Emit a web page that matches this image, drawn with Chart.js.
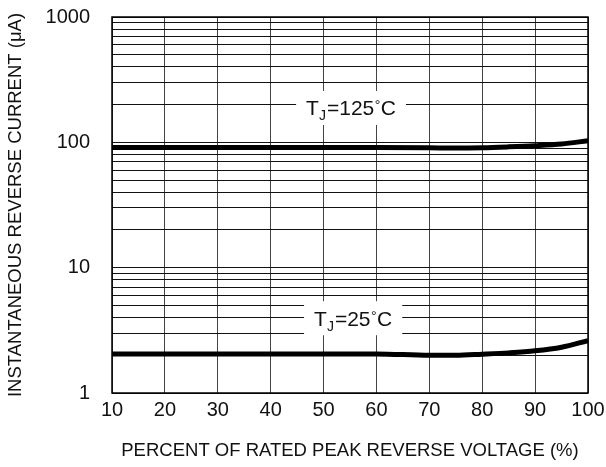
<!DOCTYPE html>
<html>
<head>
<meta charset="utf-8">
<script src="https://cdn.jsdelivr.net/npm/chart.js@4"></script>
<style>
  html, body { margin: 0; padding: 0; background: #fff; }
  #wrap { width: 606px; height: 467px; position: relative; }
</style>
</head>
<body>
<div id="wrap"><canvas id="c" width="606" height="467"></canvas></div>
<script>
// ---- data ----
const voltagePct = [10, 20, 30, 40, 50, 60, 70, 75, 80, 85, 90, 95, 100];
const current125 = [91, 91, 91, 91, 91, 91, 90.5, 90, 90.5, 92, 94, 97, 103];
const current25 = [2.05, 2.05, 2.05, 2.05, 2.05, 2.05, 2.0, 2.0, 2.04, 2.09, 2.17, 2.32, 2.62];
const seriesNames = ['TJ=125°C', 'TJ=25°C'];
const xTicks = [10, 20, 30, 40, 50, 60, 70, 80, 90, 100];
const yTicks = [1, 2, 3, 4, 5, 6, 7, 8, 9, 10, 20, 30, 40, 50, 60, 70, 80, 90,
                100, 200, 300, 400, 500, 600, 700, 800, 900, 1000];
const yLabels = [1, 10, 100, 1000];
const xTitle = 'PERCENT OF RATED PEAK REVERSE VOLTAGE (%)';
const yTitle = 'INSTANTANEOUS REVERSE CURRENT (μA)';
// curve label anchors (data coords)
const labelAnchors = [
  { x: 55.2, y: 188, main: 'T', sub: 'J', rest: '=125', deg: '°', unit: 'C' },
  { x: 55.6, y: 3.95, main: 'T', sub: 'J', rest: '=25', deg: '°', unit: 'C' }
];

const FONT = "'Liberation Sans', Arial, Helvetica, sans-serif";

const labelPlugin = {
  id: 'tjLabels',
  beforeDatasetsDraw(chart) {
    const ctx = chart.ctx;
    const xs = chart.scales.x, ys = chart.scales.y;
    labelAnchors.forEach(a => {
      const cx = xs.getPixelForValue(a.x);
      const cy = ys.getPixelForValue(a.y);
      ctx.save();
      const big = '21px ' + FONT, small = '14px ' + FONT;
      ctx.font = big;
      const wT = ctx.measureText(a.main).width;
      const wR = ctx.measureText(a.rest).width;
      const wC = ctx.measureText(a.unit).width;
      ctx.font = small;
      const wJ = ctx.measureText(a.sub).width + 1;
      const wD = ctx.measureText(a.deg).width + 1;
      const total = wT + wJ + wR + wD + wC;
      const baseline = cy + 7.5;
      ctx.fillStyle = '#fff';
      ctx.fillRect(cx - total / 2 - 10, cy - 17, total + 20, 34);
      ctx.fillStyle = '#111';
      ctx.textBaseline = 'alphabetic';
      ctx.textAlign = 'left';
      let x = cx - total / 2;
      ctx.font = big; ctx.fillText(a.main, x, baseline); x += wT;
      ctx.font = small; ctx.fillText(a.sub, x, baseline + 5); x += wJ;
      ctx.font = big; ctx.fillText(a.rest, x, baseline); x += wR;
      ctx.font = small; ctx.fillText(a.deg, x + 0.5, baseline - 5); x += wD;
      ctx.font = big; ctx.fillText(a.unit, x, baseline);
      ctx.restore();
    });
  },
  afterDatasetsDraw(chart) {
    const { ctx, chartArea: ca } = chart;
    ctx.save();
    ctx.strokeStyle = '#000';
    ctx.lineWidth = 1.5;
    ctx.strokeRect(ca.left, ca.top, ca.right - ca.left, ca.bottom - ca.top);
    ctx.restore();
  }
};

new Chart(document.getElementById('c'), {
  type: 'line',
  data: {
    labels: voltagePct,
    datasets: [
      {
        label: seriesNames[0],
        data: voltagePct.map((v, i) => ({ x: v, y: current125[i] })),
        borderColor: '#000', borderWidth: 5, pointRadius: 0,
        cubicInterpolationMode: 'monotone', fill: false
      },
      {
        label: seriesNames[1],
        data: voltagePct.map((v, i) => ({ x: v, y: current25[i] })),
        borderColor: '#000', borderWidth: 5, pointRadius: 0,
        cubicInterpolationMode: 'monotone', fill: false
      }
    ]
  },
  options: {
    responsive: false,
    animation: false,
    devicePixelRatio: 1,
    layout: { padding: { top: 17, right: 18, left: 0, bottom: 0 } },
    plugins: { legend: { display: false }, tooltip: { enabled: false } },
    scales: {
      x: {
        type: 'linear', min: 10, max: 100,
        afterBuildTicks: s => { s.ticks = xTicks.map(v => ({ value: v })); },
        afterFit: s => { s.height = 74; s.paddingLeft = 0; s.paddingRight = 0; s.paddingTop = 0; s.paddingBottom = 0; },
        grid: { color: '#444', lineWidth: 1, drawTicks: false },
        border: { display: false },
        ticks: { color: '#111', font: { family: FONT, size: 20 }, padding: 5, maxRotation: 0, autoSkip: false },
        title: { display: true, text: xTitle, color: '#111', font: { family: FONT, size: 18.5 }, padding: { top: 0, bottom: 5 } }
      },
      y: {
        type: 'logarithmic', min: 1, max: 1000,
        afterBuildTicks: s => { s.ticks = yTicks.map(v => ({ value: v })); },
        afterFit: s => { s.width = 112; s.paddingLeft = 0; s.paddingRight = 0; s.paddingTop = 0; s.paddingBottom = 0; },
        grid: { color: '#111', lineWidth: 1, drawTicks: false },
        border: { display: false },
        ticks: {
          color: '#111', font: { family: FONT, size: 20 }, padding: 22, autoSkip: false,
          callback: v => yLabels.includes(v) ? String(v) : ''
        },
        title: { display: true, text: yTitle, color: '#111', font: { family: FONT, size: 18.5 }, padding: { top: 5, bottom: 0 } }
      }
    }
  },
  plugins: [labelPlugin]
});
</script>
</body>
</html>
